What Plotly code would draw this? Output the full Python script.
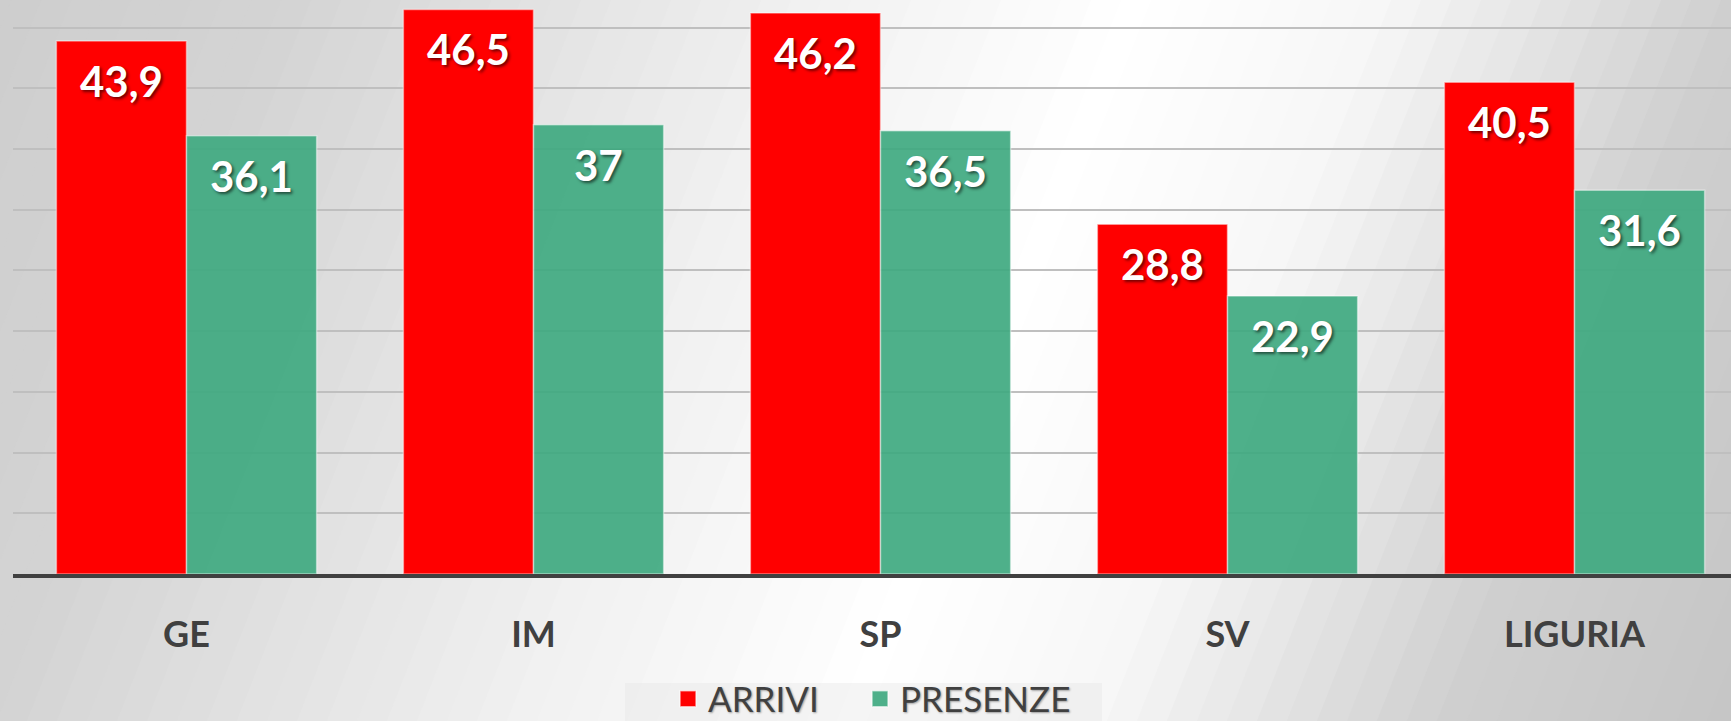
import numpy as np
import plotly.graph_objects as go

# chart data
categories = ["GE", "IM", "SP", "SV", "LIGURIA"]
arrivi = [43.9, 46.5, 46.2, 28.8, 40.5]
presenze = [36.1, 37.0, 36.5, 22.9, 31.6]

RED = "#ff0000"
GREEN = "rgba(63,169,128,0.92)"
W, H = 1731, 721
L, B = 13, 147   # plot area margins in px


def px_x(x):
    return (x - L) / (W - L)


def px_y(y):
    return (H - B - y) / (H - B)


def label(v):
    return f"{v:g}".replace(".", ",")


fig = go.Figure()

fig.add_trace(go.Bar(x=categories, y=arrivi, name="ARRIVI", marker_color=RED,
                     marker_line=dict(color="rgba(255,255,255,0.45)", width=1.5),
                     showlegend=False))
fig.add_trace(go.Bar(x=categories, y=presenze, name="PRESENZE", marker_color=GREEN,
                     marker_line=dict(color="rgba(255,255,255,0.45)", width=1.5),
                     showlegend=False))

# legend entries (bigger squares than the bar legend symbol), one legend each
for name, col, leg in [("ARRIVI", RED, "legend"), ("PRESENZE", GREEN, "legend2")]:
    fig.add_trace(go.Scatter(x=[None], y=[None], mode="markers", name=name, legend=leg,
                             marker=dict(symbol="square", size=19, color=col,
                                         line=dict(color="rgba(255,255,255,0.6)", width=1.5))))

# value labels inside the top of each bar
annotations = []
for off, vals in [(-0.1875, arrivi), (0.1875, presenze)]:
    for i, v in enumerate(vals):
        annotations.append(dict(
            x=i + off, y=v, xref="x", yref="y", text=label(v), showarrow=False,
            yanchor="top", yshift=-13,
            font=dict(family="Lato", size=42, color="white", weight="bold",
                      shadow="2px 2px 3px rgba(0,0,0,0.55)")))

# background: tilted linear gradient, light band in the middle
shapes = []
xs = np.linspace(-340, 2060, 81)
stops_x = [-340, 300, 800, 1150, 1400, 1731, 2060]
stops_g = [198, 212, 240, 255, 246, 208, 196]
tilt = 300
for a, b in zip(xs[:-1], xs[1:]):
    g = int(round(np.interp((a + b) / 2, stops_x, stops_g)))
    col = f"rgb({g},{g},{g})"
    path = (f"M {px_x(a - 1)},{px_y(-20)} L {px_x(b + 1)},{px_y(-20)} "
            f"L {px_x(b + 1 - tilt)},{px_y(H + 20)} L {px_x(a - 1 - tilt)},{px_y(H + 20)} Z")
    shapes.append(dict(type="path", path=path, xref="paper", yref="paper",
                       fillcolor=col, line=dict(width=0), layer="below"))

# legend band
shapes.append(dict(type="rect", xref="paper", yref="paper",
                   x0=px_x(625), x1=px_x(1102), y0=px_y(683), y1=px_y(H + 5),
                   fillcolor="rgba(225,225,225,0.35)", line=dict(width=0), layer="below"))

legend_font = dict(family="Lato", size=35, color="#404040",
                   shadow="1px 1px 2px rgba(0,0,0,0.35)")

fig.update_layout(
    width=W, height=H,
    margin=dict(l=L, r=0, t=0, b=B, autoexpand=False),
    paper_bgcolor="#d8d8d8",
    plot_bgcolor="rgba(0,0,0,0)",
    barmode="group",
    bargap=0.25,
    bargroupgap=0,
    shapes=shapes,
    annotations=annotations,
    showlegend=True,
    legend=dict(orientation="h", x=px_x(668), xanchor="left",
                y=px_y(699), yanchor="middle", bgcolor="rgba(0,0,0,0)",
                font=legend_font, itemsizing="trace"),
    legend2=dict(orientation="h", x=px_x(860), xanchor="left",
                 y=px_y(699), yanchor="middle", bgcolor="rgba(0,0,0,0)",
                 font=legend_font, itemsizing="trace"),
    xaxis=dict(range=[-0.5, 4.451], showgrid=False, showline=True,
               linecolor="#404040", linewidth=4, ticks="",
               ticklabelstandoff=26,
               tickfont=dict(family="Lato", size=36, color="#404040", weight="bold")),
    yaxis=dict(range=[0, 47.28], dtick=5, showgrid=True, gridcolor="#bfbfbf",
               gridwidth=2, zeroline=False, showticklabels=False, showline=False),
)

fig.write_html("out.html", config={"displayModeBar": False},
               post_script="document.body.style.margin = '0';")
